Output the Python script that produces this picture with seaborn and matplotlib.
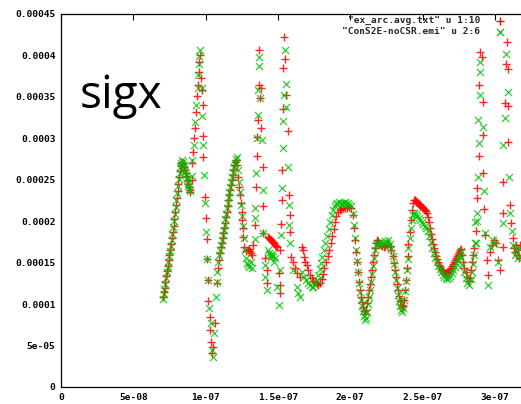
import matplotlib
matplotlib.use("Agg")
import matplotlib.pyplot as plt
import seaborn as sns
import numpy as np
import pandas as pd

# ---------------- data (x in ns, y in 1e-6) ----------------
red_x = [
    70.5, 71.1, 71.6, 72.2, 72.8, 73.3, 73.9, 74.4, 75.0, 75.5, 76.1, 76.7, 77.2, 77.8, 78.3, 78.9,
    79.4, 80.0, 80.6, 81.1, 81.7, 82.2, 82.8, 83.3, 83.9, 84.4, 85.0, 85.6, 86.1, 86.7, 87.2, 87.8,
    88.3, 88.9, 89.4,
    90.3, 90.9, 91.5, 92.0, 92.7, 93.4, 94.1, 94.4, 95.1, 95.4, 95.8,
    96.5, 97.2, 98.0, 98.4, 98.4, 99.6, 100.3, 100.8, 100.8, 101.9, 101.9, 103.0, 103.0, 103.5,
    104.2, 104.9,
    106.5, 108.1, 108.8, 109.5, 110.0, 110.7, 111.2, 111.7, 112.3, 112.9, 113.4, 114.0, 114.6,
    115.2, 115.7, 116.3, 116.9, 117.4, 118.1, 118.6, 119.2, 119.8, 120.4, 121.0,
    121.9, 122.6, 123.3, 123.8, 124.3, 125.0, 125.0, 125.7, 126.1, 126.8, 128.0, 129.0, 129.7,
    130.4, 131.1, 132.1,
    133.1, 134.2, 134.9, 135.3, 135.8, 136.5, 137.1, 137.1, 137.8, 138.5, 138.5, 139.5, 139.9, 139.9,
    141.1, 142.3, 142.3, 143.2, 143.9, 144.5, 145.2, 145.9, 146.6, 147.3, 148.0, 148.7, 149.4,
    150.5, 151.2, 151.2, 151.5,
    152.2, 152.5, 152.8, 153.3, 153.7, 154.4, 154.8, 155.6, 157.0, 157.6, 158.3, 158.3, 159.3,
    160.7, 161.8, 163.2, 165.3,
    166.5, 167.4, 168.1, 168.7, 169.9, 171.0, 172.2, 173.4, 174.6, 175.7, 176.8, 178.0, 179.1,
    180.2, 181.2, 182.2, 183.3, 184.3, 185.3, 186.4, 187.4, 188.5, 189.5, 190.5, 191.6, 192.6,
    193.6, 195.0, 196.4, 197.8, 199.2, 200.6, 201.6, 202.3, 203.0, 203.7, 204.4, 205.1, 205.8,
    206.5, 207.2, 207.9, 208.6, 209.3, 210.0, 210.7, 211.4, 212.0, 212.7, 213.4, 214.1, 214.8,
    215.5, 216.2, 216.9, 217.6, 218.3, 219.0, 220.0, 221.1, 222.1, 223.2, 224.2, 225.3, 226.3,
    227.3, 228.4, 229.3, 230.0, 230.7, 231.4, 232.1, 232.8, 233.4, 234.1, 234.8, 235.5, 236.2,
    236.9, 237.6, 238.3, 239.0, 239.7, 240.3, 241.0, 241.7, 242.4, 243.1, 243.8, 244.5, 245.2,
    245.9, 246.6, 247.3, 248.0, 248.6, 249.3, 250.0, 250.7, 251.4, 252.1, 252.8, 253.5, 254.2,
    254.9, 255.6, 256.3, 257.0, 257.7, 258.4, 259.0, 259.7, 260.4, 261.1, 261.8, 262.5, 263.2,
    263.9, 264.6, 265.3, 266.0, 266.7, 267.4, 268.1, 268.8, 269.5, 270.2, 270.9, 271.6, 272.3,
    273.0, 273.7, 274.4, 275.1, 275.8, 276.5,
    277.3, 278.0, 278.7, 279.8, 280.8, 281.8, 282.9, 283.6, 284.2, 284.9, 285.6, 287.0, 287.7,
    287.7, 289.3, 289.3, 289.8, 291.0, 291.6, 292.1, 292.1, 292.5, 293.2, 294.4, 295.5, 296.7,
    298.1, 299.5, 300.8, 302.2, 303.6, 305.5, 305.5, 305.7, 307.1, 307.8, 308.3, 309.0, 309.0,
    309.4, 310.5, 311.0, 312.4, 313.3, 314.0, 314.7, 315.4, 316.1, 316.8, 317.4,
]
red_y = [
    108.6, 114.6, 119.4, 126.7, 133.9, 139.9, 146.0, 153.2, 159.2, 165.3, 172.5, 179.8, 187.0, 194.2,
    202.7, 211.1, 219.6, 228.0, 236.5, 244.9, 253.3, 260.6, 266.6, 270.2, 271.4, 269.0, 265.4, 261.8,
    258.2, 254.6, 249.7, 244.9, 241.3, 237.7, 235.2,
    249.7, 270.2, 283.5, 300.4, 312.5, 331.8, 351.1, 364.3, 380.0, 392.1, 400.5,
    372.8, 358.3, 340.2, 302.8, 277.8, 229.6, 203.5, 178.2, 154.1, 129.1, 104.1, 84.8, 68.8, 54.7,
    41.0, 48.6,
    77.2, 125.5, 143.6, 153.2, 161.7, 168.9, 173.7, 179.8, 185.8, 191.8, 197.8, 205.1, 211.1,
    218.4, 225.6, 231.6, 237.7, 243.7, 249.7, 255.8, 261.8, 267.8, 271.8, 273.9,
    267.8, 253.7, 241.6, 231.6, 222.0, 211.5, 201.5, 191.8, 181.3, 169.3, 164.1, 165.3, 166.5,
    164.1, 161.7, 159.2,
    171.3, 195.4, 241.3, 301.6, 278.7, 322.1, 364.3, 406.6, 348.6, 360.7, 312.5, 265.4, 218.4, 185.8,
    155.6, 141.1, 125.5, 181.0, 179.8, 178.5, 177.4, 176.1, 174.9, 173.7, 171.3, 170.1, 168.9,
    137.5, 123.1, 113.4, 165.3,
    196.6, 225.6, 261.8, 335.4, 384.8, 422.2, 395.7, 352.3, 308.8, 231.6, 207.5, 187.0, 156.8,
    150.8, 143.6, 137.5, 132.7,
    168.9, 165.3, 157.2, 151.2, 147.2, 141.1, 135.1, 131.5, 127.9, 126.7, 124.3, 123.1, 125.5,
    130.3, 136.3, 143.6, 150.8, 158.0, 165.3, 173.7, 182.2, 190.6, 199.1, 206.3, 211.1, 213.5,
    214.7, 216.0, 216.0, 216.0, 217.2, 216.0, 207.5, 191.8, 177.4, 162.9, 150.8, 138.7, 126.7,
    117.0, 108.6, 102.5, 96.5, 91.7, 88.1, 92.9, 101.3, 108.6, 117.0, 124.3, 132.7, 141.1,
    150.8, 159.2, 167.7, 173.7, 177.4, 176.1, 173.7, 171.3, 170.1, 168.9, 170.1, 171.3, 172.5,
    170.1, 165.3, 158.0, 149.6, 141.1, 132.7, 124.3, 117.0, 109.8, 103.7, 98.9, 96.5, 97.7,
    105.0, 117.0, 129.1, 143.6, 158.0, 172.5, 187.0, 201.5, 213.5, 221.9, 225.6, 225.6, 224.4,
    223.2, 222.0, 220.8, 219.6, 218.4, 217.2, 216.0, 214.7, 213.5, 212.3, 209.9, 205.1, 199.1,
    191.8, 184.6, 178.5, 172.5, 167.7, 162.9, 158.0, 154.4, 150.8, 147.2, 144.8, 142.4, 141.1,
    138.7, 137.5, 137.5, 136.3, 137.5, 138.7, 139.9, 142.4, 143.6, 146.0, 148.4, 150.8, 153.2,
    155.6, 158.0, 160.4, 162.9, 165.3, 166.5,
    159.2, 150.8, 143.6, 138.7, 132.7, 127.9, 131.5, 141.1, 150.8, 159.2, 167.7, 188.2, 228.0,
    240.1, 278.7, 364.3, 404.1, 398.1, 343.8, 304.0, 258.2, 214.7, 183.4, 153.2, 135.1, 162.9,
    171.3, 177.4, 173.7, 153.2, 141.1, 209.9, 247.3, 168.9, 342.6, 389.7, 416.2, 383.6, 339.0,
    295.6, 219.6, 197.8, 179.8, 167.7, 162.9, 171.3, 159.2, 165.3, 155.6, 171.3,
]

green_x = [
    70.3, 70.9, 71.4, 72.0, 72.6, 73.1, 73.7, 74.2, 74.8, 75.3, 75.9, 76.5, 77.0, 77.6, 78.1, 78.7,
    79.2, 79.8, 80.4, 80.9, 81.5, 82.0, 82.6, 83.1, 83.7, 84.2, 84.8, 85.4, 85.9, 86.5, 87.0, 87.6,
    88.1, 88.7, 89.2,
    90.4, 90.9, 91.8, 92.7, 93.6, 94.4, 94.9, 95.4, 95.6, 95.8,
    97.5, 97.7, 98.4, 98.9, 99.6, 100.3, 100.8, 101.9, 102.6, 103.5, 104.2, 104.9, 105.8, 107.2,
    107.7, 108.2, 108.9, 109.6, 110.2, 110.8, 111.3, 111.9, 112.5, 113.1, 113.6, 114.2, 114.8,
    115.4, 116.0, 116.5, 117.1, 117.7, 118.3, 118.8, 119.4, 120.0, 120.7, 121.4,
    122.4, 123.1, 123.8, 124.5, 125.2, 125.9, 126.6, 127.3, 128.0, 128.7, 129.4, 130.1, 131.1, 132.1,
    134.2, 134.2, 134.2, 134.9, 135.8, 136.5, 136.5, 137.1, 137.1, 137.8, 138.7, 139.5, 139.9,
    141.1, 141.1, 142.3, 143.2, 143.9, 144.5, 145.2, 145.9, 146.6, 147.3, 148.0, 149.5, 150.6, 151.2,
    152.2, 152.7, 153.3, 153.3, 153.9, 154.8, 155.6, 155.6, 157.0, 157.6, 157.6, 158.3, 160.7,
    163.1, 164.1, 165.3,
    166.7, 168.1, 169.4, 170.8, 172.2, 173.6, 174.6, 175.7, 176.7, 177.7, 178.8, 179.8, 180.8,
    181.8, 182.9, 183.9, 185.0, 186.0, 187.1, 188.1, 189.2, 190.2, 191.2, 192.3, 193.3, 194.3,
    195.4, 196.4, 197.4, 198.5, 199.5, 200.6, 201.6, 202.3, 203.0, 203.7, 204.4, 205.1, 205.8,
    206.5, 207.2, 207.9, 208.6, 209.3, 210.0, 210.7, 211.4, 212.0, 212.7, 213.4, 214.1, 214.8,
    215.5, 216.2, 216.9, 217.9, 219.0, 220.0, 221.1, 222.1, 223.2, 224.2, 225.3, 226.3, 227.3,
    228.4, 229.3, 230.0, 230.7, 231.4, 232.1, 232.8, 233.4, 234.1, 234.8, 235.5, 236.2, 236.9,
    237.6, 238.3, 239.0, 239.7, 240.3, 241.0, 241.7, 242.4, 243.1, 244.1, 245.2, 246.2, 247.3,
    248.3, 249.3, 250.4, 251.4, 252.4, 253.5, 254.5, 255.6, 256.6, 257.7, 258.7, 259.7, 260.8,
    261.8, 262.8, 263.9, 264.9, 266.0, 267.0, 268.1, 269.1, 270.1, 271.2, 272.2, 273.3, 274.3,
    275.4, 276.5,
    276.6, 277.6, 278.7, 279.8, 280.8, 282.2, 283.3, 284.2, 284.9, 285.6, 286.3, 287.0, 287.5,
    287.5, 286.3, 288.6, 288.6, 289.3, 289.8, 289.8, 289.8, 291.6, 292.5, 293.2, 295.5, 296.7,
    298.8, 300.2, 302.2, 305.5, 305.9, 307.1, 307.8, 309.0, 310.0, 310.5, 311.7, 312.6, 313.7,
    314.7, 315.8, 316.8, 317.8,
]
green_y = [
    106.2, 112.2, 118.2, 124.3, 131.5, 138.7, 144.8, 150.8, 158.0, 164.1, 170.1, 177.4, 184.6, 193.0,
    200.3, 208.7, 217.2, 225.6, 234.0, 242.5, 250.9, 258.2, 265.4, 270.2, 273.9, 271.4, 267.8, 263.0,
    259.4, 255.8, 251.0, 246.1, 242.5, 238.9, 236.5,
    254.6, 273.9, 292.0, 319.7, 340.2, 360.7, 376.4, 389.7, 399.3, 406.6,
    360.7, 326.9, 291.9, 255.8, 222.3, 187.4, 154.1, 129.1, 95.3, 77.2, 44.6, 36.6, 65.1, 108.9,
    126.7, 138.7, 150.8, 159.2, 165.3, 171.3, 177.4, 183.4, 189.4, 195.4, 202.7, 208.7, 216.0,
    222.0, 229.2, 235.2, 241.3, 247.3, 253.3, 259.4, 265.4, 270.2, 275.1, 277.5,
    261.8, 247.3, 235.2, 219.6, 206.3, 194.2, 179.8, 165.3, 155.6, 149.6, 147.2, 144.8, 150.8, 143.6,
    178.5, 203.9, 215.9, 258.2, 300.4, 328.1, 358.3, 387.3, 398.5, 348.6, 298.0, 237.7, 185.8,
    147.2, 132.7, 117.0, 165.3, 161.7, 159.2, 156.8, 160.4, 158.0, 150.8, 155.6, 120.6, 98.9, 141.1,
    183.4, 240.1, 288.3, 320.9, 352.3, 406.6, 365.5, 337.8, 265.4, 219.6, 195.4, 173.7, 141.1,
    120.6, 113.4, 108.6,
    138.7, 132.7, 129.1, 125.5, 123.1, 120.6, 120.6, 124.3, 129.1, 135.1, 142.4, 149.6, 156.8,
    165.3, 173.7, 182.2, 190.6, 199.1, 207.5, 213.5, 218.4, 220.8, 222.0, 223.2, 222.0, 220.8,
    222.0, 223.2, 220.8, 222.0, 219.6, 218.4, 208.7, 195.4, 179.8, 165.3, 152.0, 138.7, 125.5,
    114.6, 105.0, 97.7, 91.7, 85.7, 80.8, 83.2, 90.5, 100.1, 108.6, 117.0, 126.7, 136.3,
    146.0, 155.6, 165.3, 171.3, 173.7, 172.5, 174.9, 171.3, 173.7, 176.1, 173.7, 177.4, 172.5,
    166.5, 158.0, 148.4, 138.7, 129.1, 119.4, 111.0, 103.7, 97.7, 92.9, 90.5, 95.3, 105.0,
    115.8, 127.9, 141.1, 154.4, 167.7, 179.8, 191.8, 201.5, 207.5, 209.9, 208.7, 206.3, 203.9,
    201.5, 199.1, 196.6, 194.2, 191.8, 188.2, 182.2, 174.9, 167.7, 161.7, 155.6, 150.8, 146.0,
    142.4, 138.7, 135.1, 132.7, 131.5, 130.3, 131.5, 133.9, 137.5, 141.1, 144.8, 149.6, 154.4,
    159.2, 164.1,
    155.6, 147.2, 138.7, 131.5, 125.5, 123.1, 130.3, 138.7, 148.4, 159.2, 173.7, 173.7, 209.9,
    200.3, 199.1, 253.3, 322.1, 294.4, 352.3, 380.0, 392.1, 313.7, 236.5, 185.8, 123.1, 168.9,
    177.4, 172.5, 150.8, 197.8, 292.0, 324.5, 401.7, 355.9, 253.3, 209.9, 188.2, 171.3, 159.2,
    165.3, 155.6, 167.7, 158.0,
]

series_labels = ['"ex_arc.avg.txt" u 1:10', '"ConS2E-noCSR.emi" u 2:6']
x_ticks_ns = [0, 50, 100, 150, 200, 250, 300]
x_tick_labels = ["0", "5e-08", "1e-07", "1.5e-07", "2e-07", "2.5e-07", "3e-07"]
y_ticks_u = [0, 50, 100, 150, 200, 250, 300, 350, 400, 450]
y_tick_labels = ["0", "5e-05", "0.0001", "0.00015", "0.0002", "0.00025",
                 "0.0003", "0.00035", "0.0004", "0.00045"]
title_text = "sigx"

# ---------------- build frame ----------------
df_red = pd.DataFrame({"x": np.array(red_x) * 1e-9, "y": np.array(red_y) * 1e-6})
df_green = pd.DataFrame({"x": np.array(green_x) * 1e-9, "y": np.array(green_y) * 1e-6})

sns.set_style("white")
mono = {"family": "DejaVu Sans Mono", "weight": "bold", "size": 6.8}

W, H = 521, 404
fig = plt.figure(figsize=(W / 100, H / 100), dpi=100)
ax = fig.add_axes([61 / W, 17 / H, (W - 61) / W, (387 - 14) / H])

sns.scatterplot(data=df_red, x="x", y="y", marker="+", color="#ff0000", s=34,
                linewidth=1.0, alpha=0.85, ax=ax, label=series_labels[0])
sns.scatterplot(data=df_green, x="x", y="y", marker="x", color="#00c000", s=26,
                linewidth=0.9, alpha=0.8, ax=ax, label=series_labels[1])

ax.set_xlim(0, 318.1e-9)
ax.set_ylim(0, 450e-6)
ax.set_xticks(np.array(x_ticks_ns) * 1e-9)
ax.set_xticklabels(x_tick_labels, fontdict=mono)
ax.set_yticks(np.array(y_ticks_u) * 1e-6)
ax.set_yticklabels(y_tick_labels, fontdict=mono)
ax.set_xlabel("")
ax.set_ylabel("")
ax.tick_params(direction="in", length=4, width=0.8, top=True, right=False,
               colors="black", pad=4)
for side in ["left", "bottom", "top"]:
    ax.spines[side].set_visible(True)
    ax.spines[side].set_color("black")
    ax.spines[side].set_linewidth(0.9)
ax.spines["right"].set_visible(False)

leg = ax.legend(loc="upper right", bbox_to_anchor=(505 / W, (404 - 16) / H),
                bbox_transform=fig.transFigure, frameon=False, markerfirst=False,
                prop={"family": "DejaVu Sans Mono", "weight": "bold", "size": 6.8},
                handlelength=1.0, handletextpad=1.6, labelspacing=0.25,
                borderpad=0, borderaxespad=0)
for h in leg.legend_handles:
    h.set_alpha(1.0)

fig.text(80 / W, (404 - 108) / H, title_text, fontsize=33, family="Open Sans",
         ha="left", va="baseline", color="black")

fig.savefig("out.png", dpi=100)
